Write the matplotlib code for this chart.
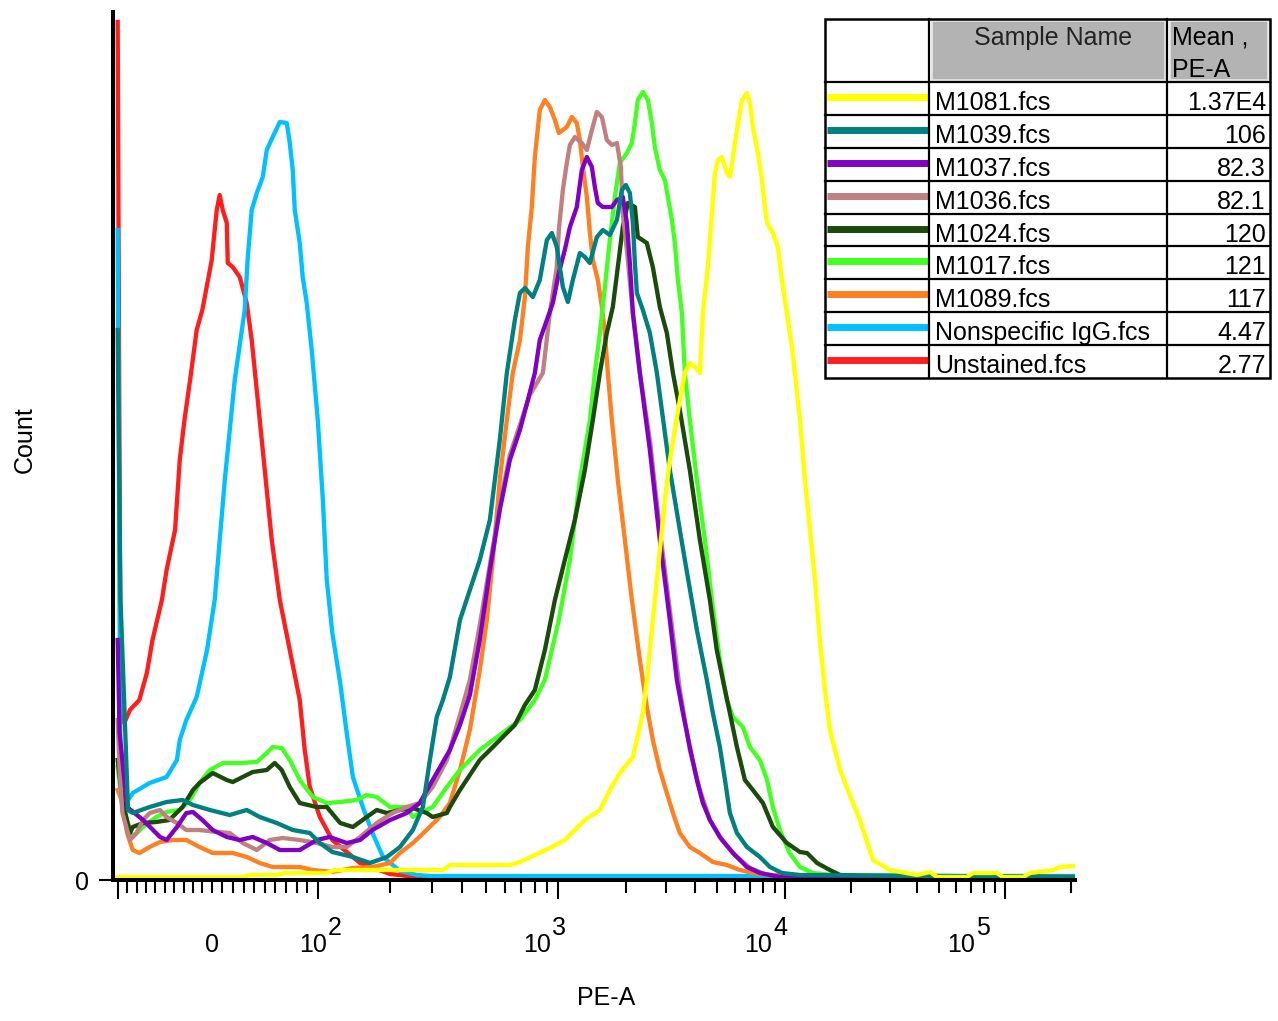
import numpy as np
import matplotlib
matplotlib.use("Agg")
import matplotlib.pyplot as plt
from matplotlib.patches import Rectangle
import matplotlib.transforms as mtransforms

plt.rcParams['font.family'] = ['Liberation Sans', 'DejaVu Sans']

# ---------------- data (PE-A value, count) ----------------
sample_names = ["M1081.fcs", "M1039.fcs", "M1037.fcs", "M1036.fcs", "M1024.fcs",
                "M1017.fcs", "M1089.fcs", "Nonspecific IgG.fcs", "Unstained.fcs"]
mean_pe = ["1.37E4", "106", "82.3", "82.1", "120", "121", "117", "4.47", "2.77"]
colors = ["#ffff00", "#008080", "#8000c4", "#c08080", "#1a4a0c",
          "#44ff22", "#ff8020", "#00c0ff", "#ff1e1e"]

m1081 = [(-100, 3), (29.2, 3), (35.8, 5), (61.3, 5), (68.9, 7), (109, 7), (118, 10), (332, 10),
         (355, 15), (631, 15), (695, 18), (802, 25), (926, 32), (1073, 40), (1188, 50), (1315, 60),
         (1531, 70), (1694, 90), (1875, 107), (2140, 123), (2368, 167), (2465, 200), (2674, 280),
         (2813, 330), (2960, 380), (3113, 420), (3275, 450), (3445, 480), (3625, 507), (3812, 517),
         (4013, 513), (4222, 507), (4352, 567), (4578, 613), (4770, 667), (4917, 707), (5070, 720),
         (5270, 723), (5550, 707), (5722, 703), (5900, 723), (6145, 750), (6465, 780), (6800, 787),
         (7010, 777), (7225, 753), (7600, 727), (7920, 700), (8160, 673), (8340, 657), (8850, 647),
         (9310, 633), (9700, 600), (10200, 567), (10760, 533), (11100, 507), (11700, 460),
         (12330, 400), (13000, 350), (13700, 300), (14400, 240), (15200, 190), (16000, 150),
         (17800, 110), (19700, 85), (21900, 60), (25100, 20), (30000, 10), (39800, 5), (45600, 8),
         (49100, 3), (67200, 3), (71500, 7), (91900, 7), (97900, 3), (121000, 3), (130000, 7),
         (165000, 10), (178000, 13), (208000, 14)]

m1039 = [(-100, 550), (-97, 280), (-89, 70), (-84, 67), (-66, 73), (-48, 78), (-31, 80), (-20, 75),
         (-2, 70), (17, 65), (33, 70), (45.3, 63), (61.3, 57), (76.4, 50), (92.5, 47), (102, 37),
         (115, 28), (140, 23), (165, 17), (194, 23), (220, 33), (249, 50), (274, 73), (293, 120),
         (313, 163), (332, 180), (355, 203), (391, 260), (430, 290), (473, 320), (521, 360),
         (573, 440), (613, 507), (662, 560), (695, 587), (729, 592), (787, 583), (841, 600),
         (900, 640), (944, 647), (990, 633), (1052, 593), (1107, 578), (1164, 600), (1250, 627),
         (1315, 623), (1384, 617), (1485, 643), (1578, 650), (1694, 645), (1820, 660), (1914, 690),
         (1993, 695), (2075, 687), (2140, 657), (2184, 617), (2229, 587), (2368, 570), (2542, 547),
         (2730, 507), (3113, 410), (3625, 320), (4095, 250), (4530, 200), (4815, 167), (5170, 133),
         (5445, 100), (5722, 67), (6145, 47), (6800, 33), (7760, 23), (8590, 13), (9700, 7),
         (11700, 5), (208000, 3)]

m1037 = [(-100, 240), (-98, 147), (-90, 73), (-73, 60), (-55, 43), (-48, 40), (-37, 53), (-27, 67),
         (-20, 68), (-10, 60), (0.9, 50), (14.2, 43), (26.4, 40), (38.7, 43), (51.9, 37), (64.2, 30),
         (83, 30), (99, 40), (112, 43), (132, 37), (150, 40), (169, 50), (200, 60), (235, 67),
         (266, 77), (301, 100), (355, 130), (391, 155), (430, 185), (473, 240), (521, 310),
         (573, 370), (631, 420), (695, 450), (750, 480), (802, 507), (841, 540), (900, 560),
         (953, 577), (1010, 607), (1073, 630), (1130, 653), (1212, 673), (1275, 710), (1342, 723),
         (1412, 713), (1455, 693), (1500, 677), (1578, 673), (1729, 673), (1820, 680), (1932, 683),
         (2014, 657), (2075, 617), (2140, 567), (2297, 507), (2542, 430), (2813, 340), (3113, 260),
         (3342, 200), (3555, 167), (3812, 133), (4095, 100), (4352, 77), (4672, 60), (5170, 43),
         (5900, 27), (6800, 13), (7760, 7), (9500, 3), (11700, 2), (208000, 2)]

m1036 = [(-100, 160), (-98, 110), (-95, 67), (-87, 40), (-80, 47), (-73, 60), (-66, 67), (-55, 70),
         (-48, 63), (-37, 57), (-27, 50), (-13, 50), (4.7, 48), (17, 47), (29.2, 37), (42.5, 30),
         (54.7, 40), (67, 42), (83, 40), (99, 37), (115, 33), (132, 33), (150, 43), (176, 57),
         (205, 67), (235, 73), (266, 77), (301, 93), (345, 120), (391, 165), (430, 200), (473, 255),
         (521, 315), (573, 375), (631, 425), (695, 455), (764, 485), (866, 507), (926, 567),
         (990, 613), (1010, 650), (1052, 690), (1095, 717), (1130, 735), (1188, 743), (1275, 737),
         (1342, 730), (1412, 750), (1485, 768), (1563, 763), (1643, 740), (1729, 735), (1820, 737),
         (1895, 713), (1932, 667), (2014, 630), (2140, 567), (2297, 507), (2542, 440), (2813, 350),
         (3113, 270), (3445, 190), (3812, 130), (4222, 90), (4672, 60), (5270, 40), (6020, 25),
         (7010, 12), (8160, 6), (10000, 3), (208000, 2)]

m1024 = [(-100, 120), (-95, 80), (-87, 47), (-84, 53), (-73, 57), (-59, 58), (-45, 60), (-31, 73),
         (-20, 90), (-13, 97), (0.9, 107), (14.2, 100), (19.8, 98), (29.2, 103), (38.7, 108),
         (51.9, 110), (59.4, 117), (66, 110), (73.6, 93), (83, 77), (99, 73), (109, 73), (124, 57),
         (140, 53), (160, 63), (176, 70), (194, 67), (220, 70), (249, 72), (284, 67), (301, 63),
         (345, 67), (355, 73), (391, 90), (430, 105), (473, 120), (547, 135), (601, 145), (662, 155),
         (729, 175), (802, 190), (883, 230), (972, 280), (1073, 320), (1188, 360), (1315, 410),
         (1426, 460), (1531, 507), (1643, 547), (1746, 573), (1837, 613), (1932, 653), (2033, 677),
         (2184, 673), (2250, 643), (2465, 637), (2620, 613), (2813, 573), (3020, 547), (3212, 507),
         (3445, 470), (3812, 410), (4222, 340), (4672, 280), (5010, 230), (5330, 200), (5722, 167),
         (6145, 133), (6665, 100), (7225, 90), (8000, 77), (8850, 53), (10200, 37), (11700, 28),
         (12600, 27), (14000, 17), (16000, 10), (17800, 5), (21900, 4), (208000, 3)]

m1017 = [(-100, 113), (-95, 73), (-84, 43), (-73, 53), (-59, 63), (-48, 68), (-34, 70), (-23, 80),
         (-13, 97), (-2, 110), (10.4, 117), (26.4, 117), (42.5, 118), (51.9, 127), (57.5, 133),
         (66, 132), (73.6, 120), (83, 100), (95.3, 83), (109, 77), (124, 78), (145, 80), (160, 85),
         (176, 83), (200, 73), (235, 73), (249, 63), (266, 67), (301, 73), (345, 93), (391, 110),
         (473, 130), (573, 145), (695, 160), (802, 180), (883, 200), (1010, 260), (1130, 320),
         (1250, 400), (1384, 460), (1455, 507), (1531, 547), (1611, 593), (1694, 640), (1782, 683),
         (1875, 717), (2014, 727), (2118, 737), (2184, 757), (2250, 780), (2368, 788), (2492, 780),
         (2594, 757), (2674, 733), (2813, 710), (2960, 700), (3052, 683), (3178, 660), (3275, 637),
         (3378, 600), (3517, 567), (3625, 507), (3812, 460), (4095, 400), (4441, 340), (4770, 280),
         (5170, 220), (5550, 180), (5900, 163), (6530, 153), (7010, 133), (7760, 120), (8340, 100),
         (8850, 73), (9500, 50), (10500, 27), (11700, 13), (13400, 7), (16500, 5), (208000, 3)]

m1089 = [(-100, 90), (-96, 80), (-90, 47), (-84, 30), (-77, 27), (-66, 33), (-55, 38), (-41, 40),
         (-27, 40), (-13, 33), (0.9, 27), (19.8, 27), (33, 23), (45.3, 17), (57.5, 13), (83, 13),
         (95.3, 10), (115, 8), (140, 12), (169, 13), (200, 17), (220, 27), (249, 37), (284, 50),
         (322, 63), (355, 77), (391, 110), (430, 150), (473, 210), (506, 260), (536, 320),
         (573, 400), (613, 460), (649, 507), (695, 540), (729, 583), (750, 633), (779, 673),
         (802, 723), (841, 770), (883, 780), (926, 773), (972, 760), (1010, 747), (1095, 753),
         (1152, 763), (1212, 757), (1250, 740), (1289, 713), (1342, 683), (1384, 647), (1426, 620),
         (1500, 600), (1563, 573), (1611, 547), (1660, 507), (1729, 460), (1837, 400), (1973, 340),
         (2118, 280), (2297, 220), (2465, 173), (2620, 140), (2813, 110), (3020, 87), (3212, 67),
         (3445, 47), (3812, 33), (4222, 27), (4815, 18), (5550, 15), (6333, 10), (7225, 7),
         (8340, 5), (33300, 4), (208000, 3)]

nonspecific_igg = [(-100, 650), (-97, 90), (-89, 80), (-84, 87), (-66, 97), (-48, 103), (-37, 120),
                   (-34, 140), (-27, 160), (-16, 183), (-5, 230), (2.8, 280), (12.3, 400),
                   (21.7, 500), (31.1, 570), (34, 623), (37.7, 670), (42.5, 687), (48.1, 703),
                   (51.9, 730), (57.5, 743), (64.2, 758), (70.8, 757), (73.6, 737), (76.4, 710),
                   (78.3, 670), (83, 637), (85.8, 603), (89.6, 577), (94.3, 530), (100, 460),
                   (105, 380), (109, 300), (115, 247), (124, 197), (132, 147), (140, 103),
                   (154, 73), (169, 47), (187, 23), (220, 9), (259, 5), (293, 4), (208000, 4)]

unstained = [(-100, 858), (-97, 165), (-93, 157), (-87, 170), (-77, 180), (-69, 207), (-63, 240),
             (-53, 280), (-48, 310), (-39, 350), (-34, 420), (-29, 460), (-23, 500), (-16, 550),
             (-10, 570), (-4, 600), (0, 620), (2.8, 650), (4.7, 670), (7.5, 685), (10.4, 670),
             (14.2, 657), (15.1, 617), (19.8, 613), (26.4, 603), (33, 577), (37.7, 540), (43.4, 480),
             (50, 410), (56.6, 340), (64.2, 280), (73.6, 230), (83, 180), (87.7, 130), (92.5, 93),
             (102, 63), (115, 40), (150, 17), (200, 6), (259, 3), (208000, 3)]

curves = [m1081, m1039, m1037, m1036, m1024, m1017, m1089, nonspecific_igg, unstained]

major_ticks = [-100, 100, 1000, 10000, 100000]
minor_ticks = ([-90, -80, -70, -60, -50, -40, -30, -20, -10, 0, 10, 20, 30, 40, 50, 60, 70, 80, 90]
               + [200, 300, 400, 500, 600, 700, 800, 900]
               + [2000, 3000, 4000, 5000, 6000, 7000, 8000, 9000]
               + [20000, 30000, 40000, 50000, 60000, 70000, 80000, 90000, 200000])
decade_labels = [(100, "2"), (1000, "3"), (10000, "4"), (100000, "5")]
decade_label_dx = [9, -7, -13, -30]   # pixel nudges of the label groups


# ---------------- biexponential-like display scale ----------------
def biex_forward(v):
    v = np.asarray(v, dtype=float)
    with np.errstate(divide='ignore', invalid='ignore'):
        vp = np.maximum(v, 1e-12)
        return np.select([v <= 0, v <= 100, v <= 1000, v <= 1e4],
                         [212 + 0.94 * v, 212 + 1.06 * v,
                          318 + 240 * np.log10(vp / 100),
                          558 + 227 * np.log10(vp / 1000)],
                         785 + 220 * np.log10(vp / 1e4))


def biex_inverse(u):
    u = np.asarray(u, dtype=float)
    with np.errstate(over='ignore', invalid='ignore'):
        return np.select([u <= 212, u <= 318, u <= 558, u <= 785],
                         [(u - 212) / 0.94, (u - 212) / 1.06,
                          100 * 10 ** ((u - 318) / 240),
                          1000 * 10 ** ((u - 558) / 227)],
                         1e4 * 10 ** ((u - 785) / 220))


W, H = 1278, 1021
fig = plt.figure(figsize=(W / 100, H / 100), dpi=100)
ax = fig.add_axes([113 / W, 1 - 880 / H, (1075 - 113) / W, (880 - 12) / H])
ax.set_xscale('function', functions=(biex_forward, biex_inverse))

n = len(curves)
for i in range(n):
    pts = np.array(curves[i], dtype=float)
    ax.plot(pts[:, 0], pts[:, 1], color=colors[i], lw=3.1,
            solid_joinstyle='round', zorder=2 + (n - i) * 0.01)

ax.set_xlim(-105, 208000)
ax.set_ylim(0, 868)

for s in ('top', 'right'):
    ax.spines[s].set_visible(False)
for s in ('left', 'bottom'):
    ax.spines[s].set_linewidth(2.9)
    ax.spines[s].set_color('black')
    ax.spines[s].set_zorder(5)

ax.set_xticks(major_ticks)
ax.set_xticklabels([''] * len(major_ticks))
ax.set_xticks(minor_ticks, minor=True)
ax.tick_params(axis='x', which='major', length=14, width=1.5, direction='out', color='black')
ax.tick_params(axis='x', which='minor', length=9, width=1.5, direction='out', color='black')
ax.set_yticks([0])
ax.set_yticklabels(['0'])
ax.tick_params(axis='y', length=10, width=1.5, pad=7, labelsize=18)

fs = 18
xt = ax.get_xaxis_transform()
base_y = (880 - 952) / 868
exp_y = (880 - 935) / 868
ax.text(0, base_y, "0", transform=xt, ha='center', va='baseline', fontsize=fs, clip_on=False)
for (val, ex), dx in zip(decade_labels, decade_label_dx):
    t1 = mtransforms.offset_copy(xt, fig=fig, x=dx, y=0, units='dots')
    t2 = mtransforms.offset_copy(xt, fig=fig, x=dx + 1, y=0, units='dots')
    ax.text(val, base_y, "10", transform=t1, ha='right', va='baseline', fontsize=fs, clip_on=False)
    ax.text(val, exp_y, ex, transform=t2, ha='left', va='baseline', fontsize=fs, clip_on=False)

fig.text(606 / W, 1 - 998 / H, "PE-A", ha='center', va='center', fontsize=fs)
fig.text(25 / W, 1 - 440 / H, "Count", ha='center', va='center', rotation=90, fontsize=fs)

# ---------------- legend table ----------------
ov = fig.add_axes([0, 0, 1, 1], zorder=10)
ov.set_xlim(0, W)
ov.set_ylim(H, 0)
ov.axis('off')

tx0, tx1, ty0, ty1 = 825, 1270, 19, 378
c1, c2 = 929, 1167
hdr = 82
row_h = (ty1 - hdr) / len(sample_names)

ov.add_patch(Rectangle((tx0, ty0), tx1 - tx0, ty1 - ty0, fc='white', ec='none', zorder=1))
ov.add_patch(Rectangle((c1 + 3, ty0 + 2), c2 - c1 - 5, hdr - ty0 - 4, fc='#b3b3b3', ec='#e6e6e6', lw=1.2, zorder=2))
ov.add_patch(Rectangle((c2 + 3, ty0 + 2), tx1 - c2 - 5, hdr - ty0 - 4, fc='#b3b3b3', ec='#e6e6e6', lw=1.2, zorder=2))

ov.text((c1 + c2) / 2 + 5, 45, "Sample Name", ha='center', va='baseline', fontsize=fs, color='#222222', zorder=3)
ov.text(c2 + 5, 45, "Mean ,", ha='left', va='baseline', fontsize=fs, zorder=3)
ov.text(c2 + 5, 77, "PE-A", ha='left', va='baseline', fontsize=fs, zorder=3)

for i, (name, mv, col) in enumerate(zip(sample_names, mean_pe, colors)):
    top = hdr + i * row_h
    ov.plot([tx0 + 2, c1 - 1], [top + 15, top + 15], color=col, lw=5, solid_capstyle='butt', zorder=3)
    ov.text(c1 + 6, top + 28, name, ha='left', va='baseline', fontsize=fs, zorder=3)
    ov.text(tx1 - 4, top + 28, mv, ha='right', va='baseline', fontsize=fs, zorder=3)

for i in range(len(sample_names)):
    y = hdr + i * row_h
    ov.plot([tx0, tx1], [y, y], color='black', lw=1.6, zorder=4)
ov.plot([c1, c1], [ty0, ty1], color='black', lw=1.6, zorder=4)
ov.plot([c2, c2], [ty0, ty1], color='black', lw=1.6, zorder=4)
ov.add_patch(Rectangle((tx0, ty0), tx1 - tx0, ty1 - ty0, fc='none', ec='black', lw=1.8, zorder=4))

fig.savefig("out.png", dpi=100, facecolor='white')
